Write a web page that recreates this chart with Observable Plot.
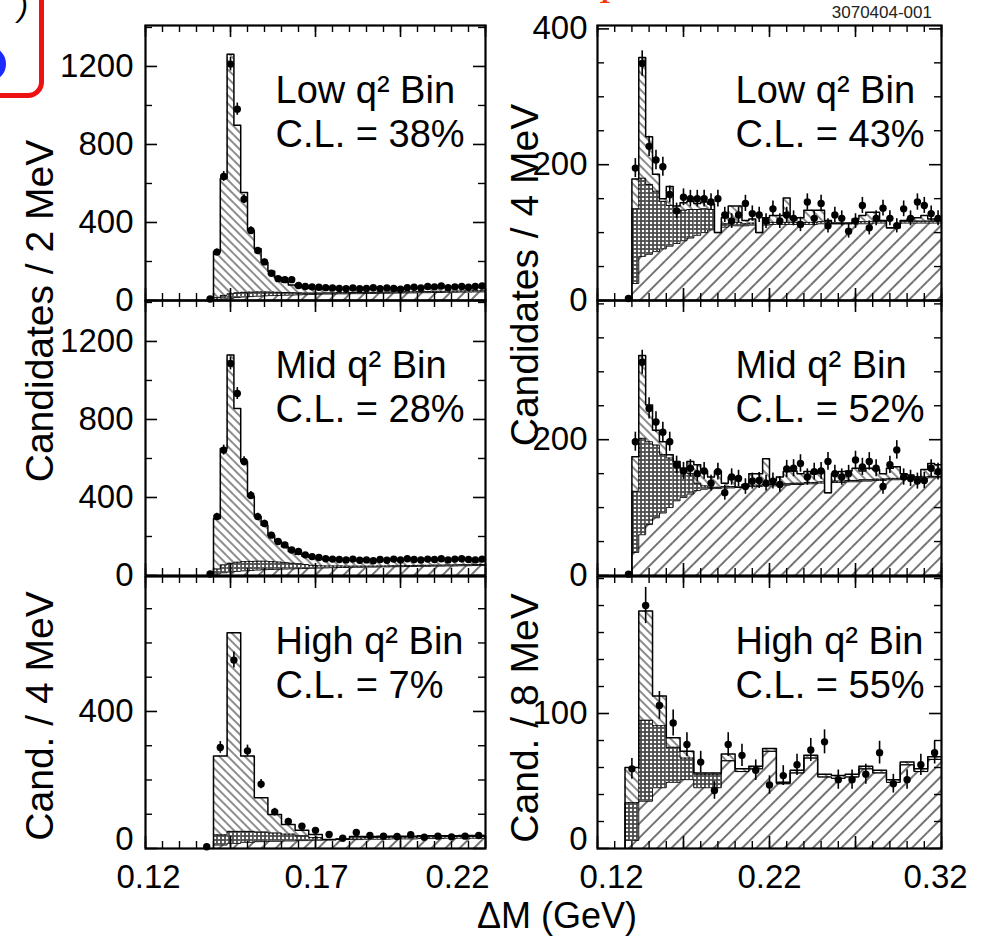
<!DOCTYPE html>
<html>
<head>
<meta charset="utf-8">
<script src="https://cdn.jsdelivr.net/npm/d3@7"></script>
<script src="https://cdn.jsdelivr.net/npm/@observablehq/plot@0.6"></script>
<style>
  html, body { margin: 0; padding: 0; background: #fff; }
  #wrap { position: relative; width: 981px; height: 945px; overflow: hidden; background: #fff;
          font-family: "Liberation Sans", Arial, Helvetica, sans-serif; color: #000; }
  .abs { position: absolute; white-space: nowrap; }
  .ytitle { position: absolute; white-space: nowrap; font-size: 39px; transform: translate(-50%, -50%) rotate(-90deg); }
</style>
</head>
<body>
<svg width="0" height="0" style="position:absolute">
  <defs>
    <pattern id="hBg" patternUnits="userSpaceOnUse" width="10" height="10" patternTransform="rotate(45)">
      <line x1="5" y1="0" x2="5" y2="10" stroke="#000" stroke-width="1.1"/>
    </pattern>
    <pattern id="hSig" patternUnits="userSpaceOnUse" width="6" height="6" patternTransform="rotate(-45)">
      <line x1="3" y1="0" x2="3" y2="6" stroke="#000" stroke-width="0.9"/>
    </pattern>
    <pattern id="hX" patternUnits="userSpaceOnUse" width="4" height="4">
      <rect width="4" height="4" fill="#4a4a4a"/>
      <circle cx="2" cy="2" r="1.25" fill="#fff"/>
    </pattern>
  </defs>
</svg>
<div id="wrap"></div>
<script>
// ---------------- DATA ----------------
// Left column: 2 MeV bins (Low, Mid), 4 MeV bins (High), starting at 0.140 GeV
const tlTotal = [250, 626, 1263, 899, 554, 359, 265, 195, 150, 118, 95, 80, 72, 66, 62, 60, 59, 59, 60, 60, 60, 61, 61, 62, 62, 63, 63, 64, 64, 65, 65, 66, 66, 67, 67, 68, 68, 69, 69, 70];
const tlBg    = [4, 8, 12, 15, 18, 20, 22, 24, 25, 26, 27, 28, 29, 30, 31, 32, 33, 33, 34, 34, 35, 35, 36, 36, 37, 37, 38, 38, 39, 39, 40, 40, 41, 41, 42, 42, 43, 43, 44, 44];
const tlMid   = [10, 18, 22, 24, 24, 23, 22, 20, 18, 16, 14, 12, 10, 8, 7, 6, 6, 6, 6, 6, 6, 6, 6, 6, 6, 6, 6, 6, 6, 6, 6, 6, 6, 6, 6, 6, 6, 6, 6, 6];
const tlData  = [8, 248, 636, 1212, 981, 520, 359, 256, 198, 140, 112, 107, 107, 77, 72, 70, 68, 66, 64, 62, 60, 64, 60, 62, 66, 60, 64, 62, 58, 66, 68, 64, 72, 70, 74, 66, 70, 72, 68, 72, 74];

const mlTotal = [292, 651, 1130, 856, 585, 405, 302, 258, 207, 174, 148, 123, 109, 99, 92, 86, 82, 80, 79, 79, 79, 79, 79, 80, 80, 80, 80, 80, 80, 81, 81, 81, 81, 81, 82, 82, 82, 82, 82, 82];
const mlBg    = [8, 14, 18, 21, 24, 26, 28, 30, 31, 32, 33, 34, 35, 36, 37, 38, 39, 40, 41, 41, 42, 42, 43, 43, 44, 44, 45, 45, 46, 46, 47, 47, 48, 48, 49, 49, 50, 50, 51, 51];
const mlMid   = [25, 40, 45, 47, 47, 46, 45, 43, 40, 37, 33, 29, 25, 20, 15, 12, 10, 9, 8, 7, 6, 6, 5, 5, 5, 5, 5, 5, 5, 5, 5, 5, 5, 5, 5, 5, 5, 5, 5, 5];
const mlData  = [8, 302, 643, 1087, 933, 585, 410, 302, 267, 207, 174, 157, 131, 123, 106, 97, 92, 86, 84, 82, 80, 84, 78, 80, 76, 82, 78, 84, 80, 86, 82, 80, 84, 82, 86, 80, 84, 86, 82, 80, 84];

const blTotal = [270, 630, 270, 148, 99, 70, 53, 41, 26, 28, 35, 35, 36, 36, 36, 37, 37, 37, 38, 38];
const blBg    = [10, 15, 18, 20, 21, 22, 23, 24, 25, 26, 26, 27, 27, 28, 28, 29, 29, 30, 30, 30];
const blMid   = [30, 35, 32, 28, 24, 20, 14, 8, 1, 2, 5, 5, 5, 5, 5, 5, 5, 5, 5, 5];
const blData  = [5, 295, 550, 285, 188, 107, 79, 65, 53, 41, 30, 47, 38, 36, 35, 40, 33, 36, 34, 36, 38];

// Right column: 4 MeV bins (Low, Mid) from 0.140, 8 MeV bins (High) from 0.136
const trTotal = [179, 358, 241, 186, 150, 168, 139, 144, 146, 143, 145, 142, 100, 122, 139, 139, 118, 120, 100, 122, 125, 125, 151, 120, 122, 133, 133, 133, 118, 114, 114, 114, 120, 125, 130, 130, 118, 107, 107, 118, 120, 122, 125, 120, 118];
const trBg    = [25, 65, 68, 72, 76, 80, 84, 88, 92, 96, 100, 104, 100, 108, 110, 110, 110, 111, 100, 111, 112, 112, 112, 112, 112, 112, 112, 113, 113, 113, 113, 113, 113, 113, 113, 114, 114, 107, 107, 114, 114, 114, 114, 114, 114];
const trMid   = [110, 115, 103, 89, 70, 60, 45, 45, 42, 38, 35, 30, 0, 5, 5, 5, 3, 3, 0, 3, 3, 3, 3, 3, 3, 3, 3, 3, 3, 0, 0, 0, 3, 3, 3, 3, 3, 0, 0, 3, 3, 3, 3, 3, 3];
const trData  = [3, 195, 349, 227, 207, 197, 156, 132, 152, 150, 150, 150, 145, 150, 126, 117, 126, 143, 128, 126, 117, 135, 117, 126, 121, 112, 145, 121, 143, 110, 126, 121, 102, 117, 140, 107, 121, 136, 121, 110, 135, 121, 145, 140, 128, 121];

const mrTotal = [175, 324, 251, 214, 197, 178, 168, 158, 168, 163, 154, 145, 154, 136, 145, 130, 134, 150, 150, 172, 140, 145, 153, 154, 150, 153, 150, 154, 122, 150, 153, 154, 158, 154, 158, 156, 150, 158, 160, 150, 148, 145, 156, 165, 163];
const mrBg    = [34, 60, 75, 85, 92, 100, 110, 115, 120, 125, 127, 128, 128, 129, 129, 130, 130, 131, 131, 132, 132, 133, 133, 134, 134, 135, 135, 136, 122, 137, 137, 138, 138, 139, 139, 140, 140, 141, 141, 142, 142, 143, 143, 144, 144];
const mrMid   = [90, 142, 122, 107, 86, 73, 53, 39, 30, 11, 5, 2, 2, 2, 2, 0, 0, 2, 2, 2, 2, 2, 2, 2, 2, 2, 2, 2, 0, 2, 2, 2, 2, 2, 2, 2, 2, 2, 2, 2, 2, 2, 2, 2, 2];
const mrData  = [2, 197, 314, 246, 226, 211, 197, 163, 154, 158, 150, 154, 136, 153, 122, 145, 143, 131, 139, 140, 136, 139, 134, 157, 158, 165, 145, 153, 154, 168, 150, 145, 150, 170, 160, 168, 158, 131, 163, 185, 145, 143, 139, 140, 158, 153];

const brTotal = [60, 176, 113, 82, 72, 56, 56, 70, 59, 61, 74, 49, 58, 69, 55, 54, 55, 61, 58, 51, 64, 59, 68];
const brBg    = [6, 35, 45, 49, 51, 45, 45, 65, 57, 59, 72, 48, 56, 67, 53, 52, 53, 59, 56, 49, 62, 57, 66];
const brMid   = [28, 60, 46, 26, 16, 10, 10, 0, 0, 0, 0, 0, 0, 0, 0, 0, 0, 0, 0, 0, 0, 0, 0];
const brData  = [59, 180, 106, 93, 77, 64, 43, 77, 69, 58, 47, 54, 62, 73, 79, 51, 51, 55, 71, 48, 51, 62, 71];

// Tick labels
const leftXLabels  = [0.12, 0.17, 0.22];
const rightXLabels = [0.12, 0.22, 0.32];
const bigYLabels   = [0, 400, 800, 1200];
const blYLabels    = [0, 400];
const trYLabels    = [0, 200, 400];
const mrYLabels    = [0, 200];
const brYLabels    = [0, 100];

// ---------------- DRAWING ----------------
const FONT = '"Liberation Sans", Arial, Helvetica, sans-serif';

function panel(cfg) {
  const {w, h, xDomain, yDomain, start, width, total, bg, mid, dotStart, dots,
         xMinor, xMajor, yMinor, yMajor, yLabels, yLabelDx, xLabels, xLabelDx,
         label1, label2, textDx, zeroDy = 0} = cfg;
  const bins = total.map((t, i) => ({x1: start + i * width, x2: start + (i + 1) * width,
                                     bg: bg[i], bm: bg[i] + mid[i], t}));
  const last = bins[bins.length - 1];
  const edge = key => [{x: bins[0].x1, y: 0}, ...bins.map(b => ({x: b.x1, y: b[key]})), {x: last.x2, y: last[key]}];
  const pts = dots.map((v, i) => ({x: dotStart + width * (i + 0.5), y: v,
                                   lo: Math.max(0, v - Math.sqrt(v)), hi: v + Math.sqrt(v)}));
  const marks = [
    Plot.rect(bins, {x1: "x1", x2: "x2", y1: 0, y2: "bg", fill: "url(#hBg)", inset: 0}),
    Plot.rect(bins, {x1: "x1", x2: "x2", y1: "bg", y2: "bm", fill: "url(#hX)", inset: 0}),
    Plot.rect(bins, {x1: "x1", x2: "x2", y1: "bm", y2: "t", fill: "url(#hSig)", inset: 0}),
    Plot.line(edge("bg"), {x: "x", y: "y", curve: "step-after", stroke: "#000", strokeWidth: 0.9}),
    Plot.line(edge("bm"), {x: "x", y: "y", curve: "step-after", stroke: "#000", strokeWidth: 0.9}),
    Plot.line(edge("t"), {x: "x", y: "y", curve: "step-after", stroke: "#000", strokeWidth: 1.5}),
    Plot.ruleX(pts, {x: "x", y1: "lo", y2: "hi", stroke: "#000", strokeWidth: 1.6}),
    Plot.dot(pts, {x: "x", y: "y", r: 3.7, fill: "#000", stroke: "none"}),
    Plot.tickX(xMinor, {x: d => d, insetBottom: h - 7, strokeWidth: 1.4}),
    Plot.tickX(xMinor, {x: d => d, insetTop: h - 7, strokeWidth: 1.4}),
    Plot.tickX(xMajor, {x: d => d, insetBottom: h - 12, strokeWidth: 1.6}),
    Plot.tickX(xMajor, {x: d => d, insetTop: h - 12, strokeWidth: 1.6}),
    Plot.tickY(yMinor, {y: d => d, insetRight: w - 7, strokeWidth: 1.4}),
    Plot.tickY(yMinor, {y: d => d, insetLeft: w - 7, strokeWidth: 1.4}),
    Plot.tickY(yMajor, {y: d => d, insetRight: w - 12, strokeWidth: 1.6}),
    Plot.tickY(yMajor, {y: d => d, insetLeft: w - 12, strokeWidth: 1.6}),
    Plot.frame({stroke: "#000", strokeWidth: 2.2}),
    Plot.text(yLabels.filter(d => d !== 0), {y: d => d, text: d => String(d), frameAnchor: "left", textAnchor: "end",
                        dx: yLabelDx, fontSize: 33, fill: "#000"}),
    Plot.text([0], {y: d => d, text: d => String(d), frameAnchor: "left", textAnchor: "end",
                    dx: yLabelDx, dy: zeroDy, fontSize: 33, fill: "#000"}),
    Plot.text([label1], {text: d => d, frameAnchor: "top-left", textAnchor: "start",
                         dx: textDx, dy: 51, fontSize: 38, fill: "#000"}),
    Plot.text([label2], {text: d => d, frameAnchor: "top-left", textAnchor: "start",
                         dx: textDx, dy: 95, fontSize: 38, fill: "#000"})
  ];
  if (xLabels) {
    xLabels.forEach((v, i) => marks.push(
      Plot.text([v], {x: d => d, text: d => d.toFixed(2), frameAnchor: "bottom", lineAnchor: "top",
                      dy: 16, dx: xLabelDx[i], fontSize: 33, fill: "#000"})));
  }
  return Plot.plot({
    width: w, height: h,
    marginLeft: 0, marginRight: 0, marginTop: 0, marginBottom: 0,
    x: {domain: xDomain, axis: null},
    y: {domain: yDomain, axis: null},
    style: {overflow: "visible", background: "transparent", fontFamily: FONT, color: "#000"},
    marks
  });
}

const leftXMinor  = d3.range(0, 21).map(i => 0.12 + i * 0.005);
const leftXMajor  = [0.12, 0.145, 0.17, 0.195, 0.22];
const rightXMinor = d3.range(0, 21).map(i => 0.12 + i * 0.01);
const rightXMajor = [0.12, 0.17, 0.22, 0.27, 0.32];

const common = {
  left:  {w: 340, xDomain: [0.12, 0.22], xMinor: leftXMinor, xMajor: leftXMajor, yLabelDx: -12, textDx: 130},
  right: {w: 344, xDomain: [0.12, 0.32], xMinor: rightXMinor, xMajor: rightXMajor, yLabelDx: -10, textDx: 138}
};

const panels = [
  {pos: [145, 25], ...common.left, h: 275, yDomain: [0, 1410], start: 0.140, width: 0.002,
   total: tlTotal, bg: tlBg, mid: tlMid, dotStart: 0.138, dots: tlData,
   yMinor: [200, 600, 1000, 1400], yMajor: bigYLabels, yLabels: bigYLabels,
   label1: "Low q² Bin", label2: "C.L. = 38%"},
  {pos: [145, 300], ...common.left, h: 275, yDomain: [0, 1410], start: 0.140, width: 0.002,
   total: mlTotal, bg: mlBg, mid: mlMid, dotStart: 0.138, dots: mlData,
   yMinor: [200, 600, 1000, 1400], yMajor: bigYLabels, yLabels: bigYLabels,
   label1: "Mid q² Bin", label2: "C.L. = 28%"},
  {pos: [145, 576], ...common.left, h: 272, yDomain: [0, 794], start: 0.140, width: 0.004,
   total: blTotal, bg: blBg, mid: blMid, dotStart: 0.136, dots: blData,
   yMinor: [100, 200, 300, 500, 600, 700], yMajor: blYLabels, yLabels: blYLabels,
   xLabels: leftXLabels, xLabelDx: [3, 1, -28], zeroDy: -9,
   label1: "High q² Bin", label2: "C.L. = 7%"},
  {pos: [597, 25], ...common.right, h: 275, yDomain: [0, 405], start: 0.140, width: 0.004,
   total: trTotal, bg: trBg, mid: trMid, dotStart: 0.136, dots: trData,
   yMinor: [50, 100, 150, 250, 300, 350], yMajor: trYLabels, yLabels: trYLabels,
   label1: "Low q² Bin", label2: "C.L. = 43%"},
  {pos: [597, 300], ...common.right, h: 275, yDomain: [0, 405], start: 0.140, width: 0.004,
   total: mrTotal, bg: mrBg, mid: mrMid, dotStart: 0.136, dots: mrData,
   yMinor: [50, 100, 150, 250, 300, 350, 400], yMajor: mrYLabels, yLabels: mrYLabels,
   label1: "Mid q² Bin", label2: "C.L. = 52%"},
  {pos: [597, 576], ...common.right, h: 272, yDomain: [0, 201.5], start: 0.136, width: 0.008,
   total: brTotal, bg: brBg, mid: brMid, dotStart: 0.136, dots: brData,
   yMinor: [20, 40, 60, 80, 120, 140, 160, 180, 200], yMajor: brYLabels, yLabels: brYLabels,
   xLabels: rightXLabels, xLabelDx: [14, 0, -6], zeroDy: -9,
   label1: "High q² Bin", label2: "C.L. = 55%"}
];

const wrap = document.getElementById("wrap");
for (const p of panels) {
  const svg = panel(p);
  svg.style.position = "absolute";
  svg.style.left = p.pos[0] + "px";
  svg.style.top = p.pos[1] + "px";
  wrap.appendChild(svg);
}

function addText(txt, css, cls) {
  const d = document.createElement("div");
  d.className = cls || "abs";
  d.textContent = txt;
  Object.assign(d.style, css);
  wrap.appendChild(d);
  return d;
}
addText("Candidates / 2 MeV", {left: "40px", top: "311px"}, "ytitle");
addText("Cand. / 4 MeV", {left: "40px", top: "716px"}, "ytitle");
addText("Candidates / 4 MeV", {left: "525px", top: "275px"}, "ytitle");
addText("Cand. / 8 MeV", {left: "525px", top: "718px"}, "ytitle");
addText("ΔM (GeV)", {left: "557px", top: "916px", fontSize: "36px", transform: "translate(-50%, -50%)"});
addText("3070404-001", {right: "49px", top: "13px", fontSize: "17px", color: "#222", transform: "translateY(-50%)"});

// slide decorations partially visible in the corner
const box = document.createElement("div");
Object.assign(box.style, {position: "absolute", left: "-40px", top: "-40px", width: "84px", height: "138px",
  boxSizing: "border-box", border: "5px solid #ee1111", borderRadius: "16px"});
wrap.appendChild(box);
const blue = document.createElement("div");
Object.assign(blue.style, {position: "absolute", left: "-22px", top: "48px", width: "28px", height: "32px",
  boxSizing: "border-box", border: "7px solid #1a2bff", borderRadius: "50%"});
wrap.appendChild(blue);
addText(")", {left: "18px", top: "-10px", fontSize: "30px", fontStyle: "italic"});
addText("1", {left: "598px", top: "-20px", fontSize: "26px", color: "#ff3300", fontFamily: "Liberation Serif, serif", fontWeight: "bold"});
</script>
</body>
</html>
